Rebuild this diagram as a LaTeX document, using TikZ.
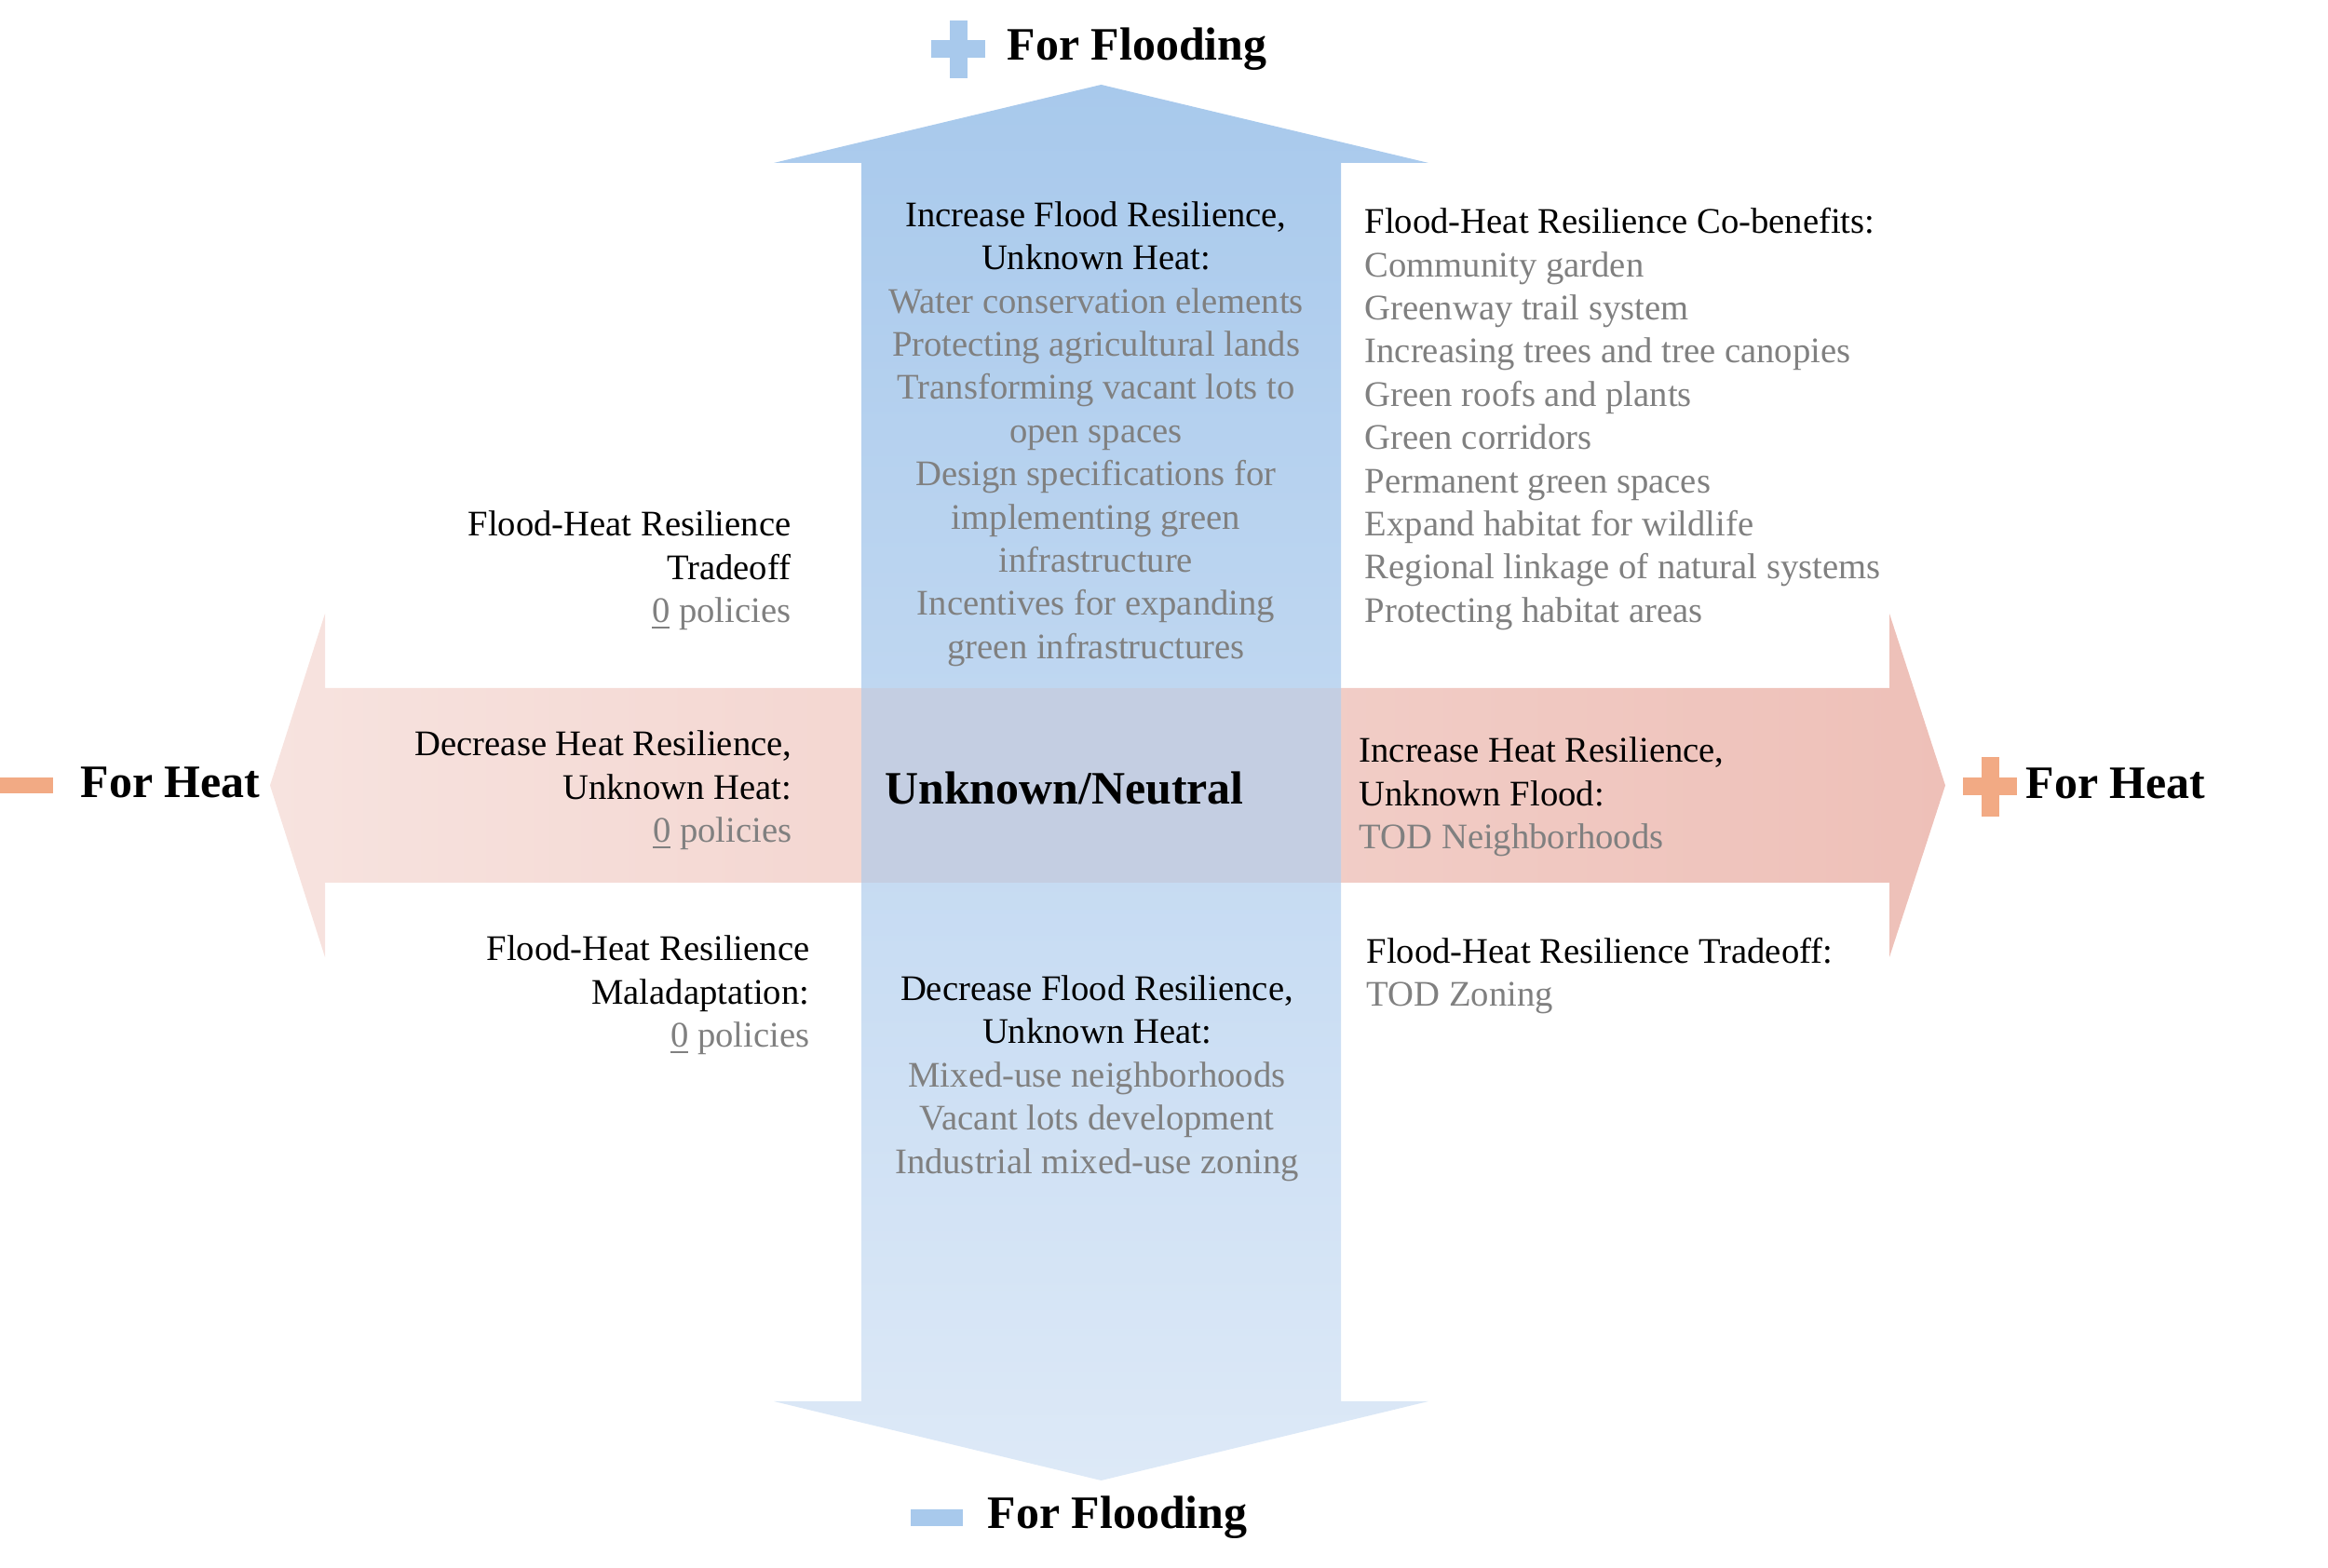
\documentclass[tikz,border=0pt]{standalone}
\usepackage{fontspec}
\setmainfont{Liberation Serif}
\usepackage{tikz}
\usetikzlibrary{positioning}

\definecolor{floodtop}{RGB}{168,201,236}
\definecolor{floodbot}{RGB}{221,233,247}
\definecolor{heatleft}{RGB}{247,227,223}
\definecolor{heatright}{RGB}{238,192,184}
\definecolor{overlap}{RGB}{196,206,226}
\definecolor{signblue}{RGB}{168,201,236}
\definecolor{signorange}{RGB}{242,170,132}

\newcommand{\pol}[1]{\textcolor{black!50}{#1}}
\newcommand{\nopol}{\pol{\underline{0} policies}}

\begin{document}
\begin{tikzpicture}[
    body/.style={font=\fontsize{11}{13.2}\selectfont, inner sep=0pt},
    axislabel/.style={font=\fontsize{14.2}{17}\selectfont\bfseries,
                      inner sep=0pt, anchor=base west},
    sign/.style={fill=#1},
]
\useasboundingbox (0,0) rectangle (25,16.84);

% === Heat axis (horizontal double arrow) ===
\shade[left color=heatleft, right color=heatright]
  (2.90,8.405) -- (3.49,10.25) -- (3.49,9.45) -- (20.29,9.45) -- (20.29,10.25)
  -- (20.89,8.405) -- (20.29,6.56) -- (20.29,7.36) -- (3.49,7.36) -- (3.49,6.56) -- cycle;

% === Flood axis (vertical double arrow) ===
\shade[top color=floodtop, bottom color=floodbot]
  (11.825,15.93) -- (15.34,15.09) -- (14.40,15.09) -- (14.40,1.79) -- (15.34,1.79)
  -- (11.825,0.94) -- (8.31,1.79) -- (9.25,1.79) -- (9.25,15.09) -- (8.31,15.09) -- cycle;

% === Overlap ===
\fill[overlap] (9.25,7.36) rectangle (14.40,9.45);

% === Axis signs ===
\fill[sign=signblue] (10.195,16.00) rectangle (10.385,16.62);
\fill[sign=signblue] (10.00,16.215) rectangle (10.58,16.405);
\fill[sign=signblue] (9.78,0.45) rectangle (10.34,0.63);
\fill[sign=signorange] (0,8.32) rectangle (0.57,8.49);
\fill[sign=signorange] (21.275,8.07) rectangle (21.465,8.71);
\fill[sign=signorange] (21.08,8.295) rectangle (21.66,8.485);

% === Axis labels ===
\node[axislabel] (floodplus)  at (10.81,16.19) {For Flooding};
\node[axislabel] (floodminus) at (10.60,0.42)  {For Flooding};
\node[axislabel] (heatminus)  at (0.86,8.27)   {For Heat};
\node[axislabel] (heatplus)   at (21.75,8.26)  {For Heat};

% === Quadrant texts ===
\node[body, align=center] (incflood) at (11.77,12.18)
  {Increase Flood Resilience,\\ Unknown Heat:\\
   \pol{Water conservation elements}\\ \pol{Protecting agricultural lands}\\
   \pol{Transforming vacant lots to}\\ \pol{open spaces}\\
   \pol{Design specifications for}\\ \pol{implementing green}\\
   \pol{infrastructure}\\ \pol{Incentives for expanding}\\
   \pol{green infrastructures}};

\node[body, align=left, anchor=west] (cobenefit) at (14.65,12.34)
  {Flood-Heat Resilience Co-benefits:\\
   \pol{Community garden}\\ \pol{Greenway trail system}\\
   \pol{Increasing trees and tree canopies}\\ \pol{Green roofs and plants}\\
   \pol{Green corridors}\\ \pol{Permanent green spaces}\\
   \pol{Expand habitat for wildlife}\\ \pol{Regional linkage of natural systems}\\
   \pol{Protecting habitat areas}};

\node[body, align=right, anchor=east] (tradeoffl) at (8.50,10.71)
  {Flood-Heat Resilience\\ Tradeoff\\ \nopol};

\node[body, align=right, anchor=east] (decheat) at (8.51,8.35)
  {Decrease Heat Resilience,\\ Unknown Heat:\\ \nopol};

\node[font=\fontsize{14.2}{17}\selectfont\bfseries, inner sep=0pt, anchor=base]
  (neutral) at (11.43,8.20) {Unknown/Neutral};

\node[body, align=left, anchor=west] (incheat) at (14.59,8.28)
  {Increase Heat Resilience,\\ Unknown Flood:\\ \pol{TOD Neighborhoods}};

\node[body, align=right, anchor=east] (maladapt) at (8.70,6.15)
  {Flood-Heat Resilience\\ Maladaptation:\\ \nopol};

\node[body, align=center] (decflood) at (11.78,5.26)
  {Decrease Flood Resilience,\\ Unknown Heat:\\
   \pol{Mixed-use neighborhoods}\\ \pol{Vacant lots development}\\
   \pol{Industrial mixed-use zoning}};

\node[body, align=left, anchor=west] (tradeoffr) at (14.67,6.36)
  {Flood-Heat Resilience Tradeoff:\\ \pol{TOD Zoning}};

\end{tikzpicture}
\end{document}
